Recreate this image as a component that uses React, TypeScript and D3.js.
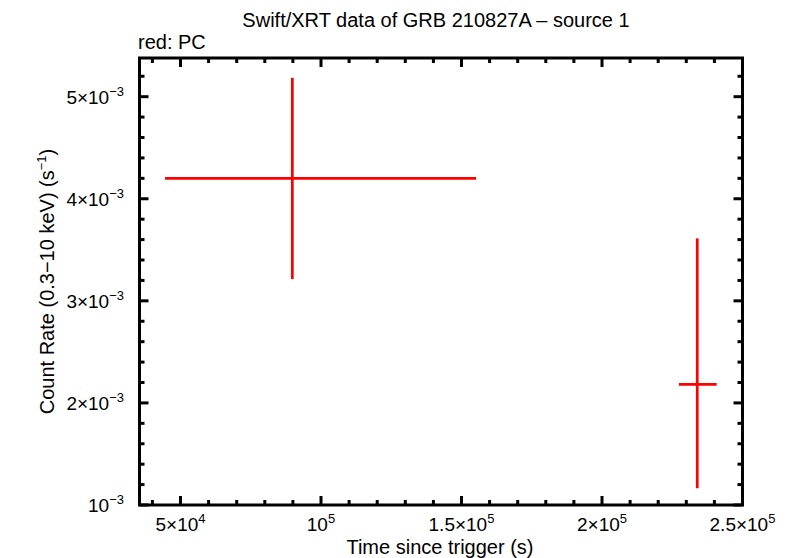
import React from "react";
import * as d3 from "d3";

const times = [89800, 233900];
const timeLo = [44500, 227400];
const timeHi = [155200, 240800];
const rates = [4.2e-3, 2.182e-3];
const rateLo = [3.213e-3, 1.164e-3];
const rateHi = [5.185e-3, 3.612e-3];

const xMajor = [5e4, 1e5, 1.5e5, 2e5, 2.5e5];
const xMajorMant = ["5", "", "1.5", "2", "2.5"];
const xMajorExp = ["4", "5", "5", "5", "5"];
const yMajor = [1e-3, 2e-3, 3e-3, 4e-3, 5e-3];
const yMajorMant = ["", "2", "3", "4", "5"];
const yMajorExp = ["−3", "−3", "−3", "−3", "−3"];

const W = 790, H = 558;
const L = 139.5, R = 742.5, T = 58, B = 505;
const FONT = "'Liberation Sans', Arial, Helvetica, sans-serif";

function Label({ mant, exp, x, y, anchor }: { mant: string; exp: string; x: number; y: number; anchor: string }) {
  return (
    <text x={x} y={y} textAnchor={anchor} fontFamily={FONT} fontSize={19} fill="#000">
      {mant ? mant + "×10" : "10"}
      <tspan fontSize={13} dy={-8}>{exp}</tspan>
    </text>
  );
}

export default function App() {
  const x = d3.scaleLinear().domain([35410, 2.5e5]).range([L, R]);
  const y = d3.scaleLinear().domain([1e-3, 5.379e-3]).range([B, T]);
  const xMinor = d3.range(4e4, 2.5e5 + 1, 1e4).filter((v) => !xMajor.some((m) => Math.abs(m - v) < 1));
  const yMinor = d3.range(1e-3, 5.38e-3, 2e-4).filter((v) => !yMajor.some((m) => Math.abs(m - v) < 1e-8));
  const red = "#ff0000";
  return (
    <svg width={W} height={H} style={{ position: "absolute", left: 0, top: 0, background: "#fff" }}>
      <rect x={0} y={0} width={W} height={H} fill="#fff" />
      <text x={436} y={27} textAnchor="middle" fontFamily={FONT} fontSize={20}>Swift/XRT data of GRB 210827A – source 1</text>
      <text x={138} y={49} fontFamily={FONT} fontSize={20}>red: PC</text>
      {xMajor.map((v) => (
        <g key={"xM" + v}>
          <line x1={x(v)} x2={x(v)} y1={B} y2={B - 9} stroke="#000" strokeWidth={3} />
          <line x1={x(v)} x2={x(v)} y1={T} y2={T + 9} stroke="#000" strokeWidth={3} />
        </g>
      ))}
      {xMinor.map((v) => (
        <g key={"xm" + v}>
          <line x1={x(v)} x2={x(v)} y1={B} y2={B - 5} stroke="#000" strokeWidth={3} />
          <line x1={x(v)} x2={x(v)} y1={T} y2={T + 5} stroke="#000" strokeWidth={3} />
        </g>
      ))}
      {yMajor.map((v) => (
        <g key={"yM" + v}>
          <line x1={L} x2={L + 9} y1={y(v)} y2={y(v)} stroke="#000" strokeWidth={3} />
          <line x1={R} x2={R - 9} y1={y(v)} y2={y(v)} stroke="#000" strokeWidth={3} />
        </g>
      ))}
      {yMinor.map((v) => (
        <g key={"ym" + v}>
          <line x1={L} x2={L + 5} y1={y(v)} y2={y(v)} stroke="#000" strokeWidth={3} />
          <line x1={R} x2={R - 5} y1={y(v)} y2={y(v)} stroke="#000" strokeWidth={3} />
        </g>
      ))}
      <rect x={L} y={T} width={R - L} height={B - T} fill="none" stroke="#000" strokeWidth={3} />
      {xMajor.map((v, i) => (
        <Label key={"xl" + v} mant={xMajorMant[i]} exp={xMajorExp[i]} x={x(v)} y={531} anchor="middle" />
      ))}
      {yMajor.map((v, i) => (
        <Label key={"yl" + v} mant={yMajorMant[i]} exp={yMajorExp[i]} x={124} y={y(v) + 7} anchor="end" />
      ))}
      <text x={440} y={554} textAnchor="middle" fontFamily={FONT} fontSize={20}>Time since trigger (s)</text>
      <text transform={`translate(54, ${(T + B) / 2}) rotate(-90)`} textAnchor="middle" fontFamily={FONT} fontSize={20}>
        Count Rate (0.3−10 keV) (s<tspan fontSize={13} dy={-8}>−1</tspan><tspan dy={8}>)</tspan>
      </text>
      {times.map((t, i) => (
        <g key={"pt" + i}>
          <line x1={x(timeLo[i])} x2={x(timeHi[i])} y1={y(rates[i])} y2={y(rates[i])} stroke={red} strokeWidth={2.7} />
          <line x1={x(t)} x2={x(t)} y1={y(rateLo[i])} y2={y(rateHi[i])} stroke={red} strokeWidth={2.7} />
        </g>
      ))}
    </svg>
  );
}
